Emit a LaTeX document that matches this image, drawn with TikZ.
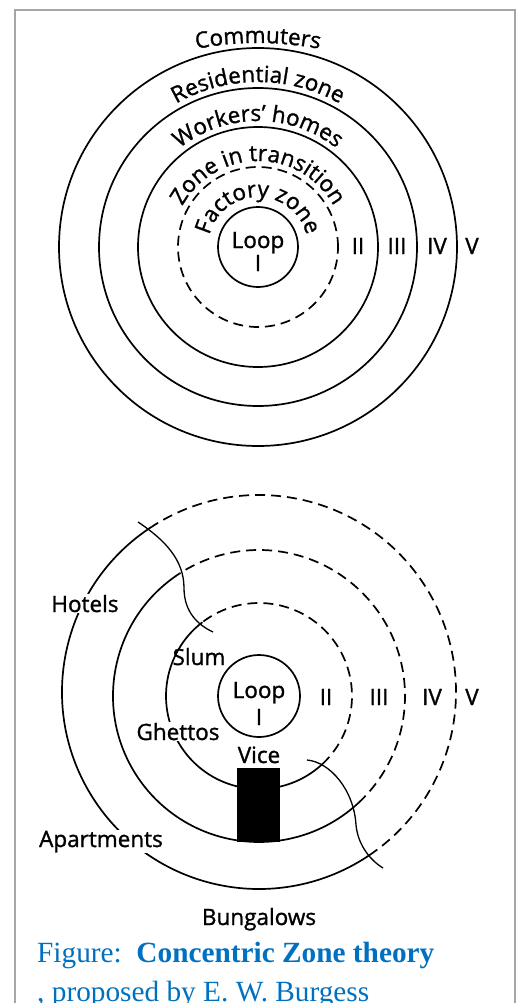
\documentclass[tikz,border=0pt]{standalone}
\usepackage{fontspec}
\newfontfamily\zonefamily[FakeBold=1.2]{Open Sans}
\newfontfamily\captionfamily{Liberation Serif}
\usetikzlibrary{decorations.text}
\definecolor{captionblue}{RGB}{0,112,192}
\definecolor{framegray}{RGB}{165,165,165}
\newcommand{\zonefont}{\zonefamily\fontsize{22.5}{24}\selectfont}
\tikzset{
  ring/.style     = {draw, line width=1.7pt},
  dashring/.style = {ring, dash pattern=on 10pt off 6pt},
  zonelabel/.style= {font=\zonefont, anchor=base, inner sep=1pt},
  gaplabel/.style = {zonelabel, fill=white},
  sector/.style   = {draw, line width=1.3pt},
  arctext/.style  = {decorate, decoration={text along path, text align=center,
                     text={|\zonefont|#1}}},
  caption/.style  = {font=\captionfamily\fontsize{29.3}{32}\selectfont, text=captionblue,
                     anchor=base west, inner sep=0pt},
}

\begin{document}
\begin{tikzpicture}[x=1pt, y=1pt]
  \useasboundingbox (0,0) rectangle (519,-1003);
  \draw[framegray, line width=1.5pt] (15,-1010) -- (15,-10) -- (515,-10) -- (515,-1010);

  % upper plan
  \coordinate (top) at (258,-247);
  \draw[ring] (top) circle[radius=40];
  \draw[dashring] (top) circle[radius=80];
  \foreach \r in {120,159,199}
    \draw[ring] (top) circle[radius=\r];

  \path[arctext={Factory zone}] (top) ++(180:50) arc[start angle=180, end angle=0, radius=50];
  \path[arctext={Zone in transition}] (top) ++(180:86) arc[start angle=180, end angle=0, radius=86];
  \path[arctext={Workers’ homes}] (top) ++(180:126) arc[start angle=180, end angle=0, radius=126];
  \path[arctext={Residential zone}] (top) ++(180:165) arc[start angle=180, end angle=0, radius=165];
  \path[arctext={Commuters}] (258,-363) ++(110:320) arc[start angle=110, end angle=70, radius=320];

  \node[zonelabel] (loopa) at (258,-248) {Loop};
  \node[zonelabel] (onea)  at (258,-271) {I};
  \node[zonelabel] (twoa)  at (358,-254) {II};
  \node[zonelabel] (threea) at (397,-254) {III};
  \node[zonelabel] (foura) at (437,-254) {IV};
  \node[zonelabel] (fivea) at (472,-254) {V};

  % lower plan
  \coordinate (bot) at (259,-696);
  \coordinate (botout) at (259,-692);
  \draw[ring] (bot) circle[radius=41];
  \draw[ring] (bot) ++(127.5:93) arc[start angle=127.5, end angle=313, radius=93];
  \draw[dashring] (bot) ++(-47:93) arc[start angle=-47, end angle=127.5, radius=93];
  \draw[ring] (bot) ++(123:146) arc[start angle=123, end angle=313, radius=146];
  \draw[dashring] (bot) ++(-47:146) arc[start angle=-47, end angle=123, radius=146];
  \draw[ring] (botout) ++(123:197) arc[start angle=123, end angle=304, radius=197];
  \draw[dashring] (botout) ++(-56:197) arc[start angle=-56, end angle=123, radius=197];

  \node[fill=black, inner sep=0pt, minimum width=43pt, minimum height=74pt] (viceblock) at (258.5,-805) {};

  \coordinate (hotelsend) at (138,-522);
  \coordinate (slumend) at (213,-632);
  \draw[sector] (hotelsend) .. controls (165,-540) and (184,-560) .. (184,-588)
    .. controls (184,-612) and (198,-625) .. (slumend);
  \coordinate (viceend) at (307,-760);
  \coordinate (bungend) at (383,-868);
  \draw[sector] (viceend) .. controls (330,-762) and (354,-790) .. (356,-825)
    .. controls (358,-845) and (370,-860) .. (bungend);

  \node[zonelabel] (loopb) at (259,-698) {Loop};
  \node[zonelabel] (oneb)  at (259,-725) {I};
  \node[zonelabel] (twob)  at (326,-705) {II};
  \node[zonelabel] (threeb) at (379,-705) {III};
  \node[zonelabel] (fourb) at (432,-705) {IV};
  \node[zonelabel] (fiveb) at (472,-705) {V};

  \node[gaplabel]  (hotels) at (85,-612) {Hotels};
  \node[zonelabel] (slum) at (199,-665) {Slum};
  \node[gaplabel]  (ghettos) at (178,-740) {Ghettos};
  \node[zonelabel] (vice) at (259,-763) {Vice};
  \node[gaplabel]  (apartments) at (101,-847) {Apartments};
  \node[zonelabel] (bungalows) at (259,-925) {Bungalows};

  \node[caption] (capone) at (37,-962) {Figure:\ \ \textbf{Concentric Zone theory}};
  \node[caption] (captwo) at (37,-1001) {, proposed by E. W. Burgess};
\end{tikzpicture}
\end{document}
